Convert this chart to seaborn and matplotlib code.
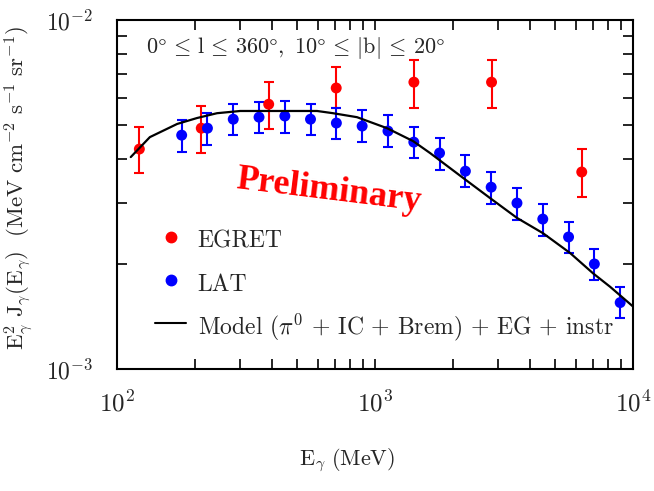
import matplotlib
matplotlib.use("Agg")
import matplotlib.pyplot as plt
from matplotlib.lines import Line2D
from matplotlib.ticker import FixedLocator, FixedFormatter, NullFormatter
import numpy as np
import seaborn as sns

# EGRET points (MeV, MeV cm^-2 s^-1 sr^-1)
egret_e = [122, 212, 387, 707, 1414, 2828, 6325]
egret_v = [4.27e-3, 4.90e-3, 5.74e-3, 6.39e-3, 6.64e-3, 6.64e-3, 3.67e-3]
egret_hi = [4.93e-3, 5.67e-3, 6.64e-3, 7.33e-3, 7.68e-3, 7.68e-3, 4.27e-3]
egret_lo = [3.65e-3, 4.16e-3, 4.87e-3, 5.60e-3, 5.60e-3, 5.60e-3, 3.11e-3]

# LAT points
lat_e = [178, 224, 282, 355, 447, 562, 708, 891, 1122, 1413,
         1778, 2239, 2818, 3548, 4467, 5623, 7079, 8913]
lat_v = [4.68e-3, 4.90e-3, 5.20e-3, 5.27e-3, 5.31e-3, 5.20e-3, 5.07e-3, 4.97e-3, 4.81e-3, 4.47e-3,
         4.16e-3, 3.69e-3, 3.32e-3, 2.99e-3, 2.69e-3, 2.39e-3, 2.00e-3, 1.55e-3]
lat_hi = [5.17e-3, 5.41e-3, 5.74e-3, 5.82e-3, 5.86e-3, 5.74e-3, 5.60e-3, 5.52e-3, 5.34e-3, 4.94e-3,
          4.59e-3, 4.10e-3, 3.67e-3, 3.30e-3, 2.97e-3, 2.64e-3, 2.21e-3, 1.72e-3]
lat_lo = [4.19e-3, 4.38e-3, 4.68e-3, 4.75e-3, 4.75e-3, 4.68e-3, 4.56e-3, 4.47e-3, 4.33e-3, 4.02e-3,
          3.72e-3, 3.32e-3, 2.97e-3, 2.67e-3, 2.40e-3, 2.15e-3, 1.80e-3, 1.40e-3]

# model curve
model_e = [113, 134, 171, 204, 244, 300, 392, 596, 687, 851, 1113,
           1404, 1633, 2193, 2790, 3550, 4477, 5700, 6998, 8150, 10000]
model_v = [4.05e-3, 4.62e-3, 5.04e-3, 5.24e-3, 5.41e-3, 5.49e-3, 5.49e-3, 5.49e-3, 5.41e-3, 5.27e-3, 4.90e-3,
           4.50e-3, 4.16e-3, 3.53e-3, 3.09e-3, 2.71e-3, 2.45e-3, 2.15e-3, 1.88e-3, 1.72e-3, 1.51e-3]

x_ticks = [1e2, 1e3, 1e4]
x_labels = [r'$10^2$', r'$10^3$', r'$10^4$']
x_minor = [200, 300, 400, 500, 600, 700, 800, 900, 2000, 3000, 4000, 5000, 6000, 7000, 8000, 9000]
y_ticks = [1e-3, 1e-2]
y_labels = [r'$10^{-3}$', r'$10^{-2}$']
y_minor = [2e-3, 3e-3, 4e-3, 5e-3, 6e-3, 7e-3, 8e-3, 9e-3]

sns.set_theme(style="ticks")
plt.rcParams['mathtext.fontset'] = 'cm'
plt.rcParams['font.family'] = ['cmr10', 'DejaVu Serif']

fig = plt.figure(figsize=(6.54, 4.91), dpi=100)
ax = fig.add_axes([0.179, 0.2485, 0.789, 0.7105])

ax.errorbar(egret_e, egret_v,
            yerr=[np.array(egret_v) - np.array(egret_lo), np.array(egret_hi) - np.array(egret_v)],
            fmt='none', ecolor='red', elinewidth=1.5, capsize=3.5, capthick=1.5)
ax.errorbar(lat_e, lat_v,
            yerr=[np.array(lat_v) - np.array(lat_lo), np.array(lat_hi) - np.array(lat_v)],
            fmt='none', ecolor='blue', elinewidth=1.5, capsize=3.5, capthick=1.5)
sns.scatterplot(x=egret_e, y=egret_v, color='red', s=62, edgecolor='none', ax=ax, zorder=3)
sns.scatterplot(x=lat_e, y=lat_v, color='blue', s=62, edgecolor='none', ax=ax, zorder=3)
sns.lineplot(x=model_e, y=model_v, color='black', lw=1.6, ax=ax, zorder=4)

ax.set_xscale('log')
ax.set_yscale('log')
ax.set_xlim(1e2, 1e4)
ax.set_ylim(1e-3, 1e-2)

ax.xaxis.set_major_locator(FixedLocator(x_ticks))
ax.xaxis.set_major_formatter(FixedFormatter(x_labels))
ax.yaxis.set_major_locator(FixedLocator(y_ticks))
ax.yaxis.set_major_formatter(FixedFormatter(y_labels))
ax.xaxis.set_minor_locator(FixedLocator(x_minor))
ax.yaxis.set_minor_locator(FixedLocator(y_minor))
ax.xaxis.set_minor_formatter(NullFormatter())
ax.yaxis.set_minor_formatter(NullFormatter())

ax.tick_params(which='both', direction='in', top=True, right=True, length=7, width=1.2, color='black')
ax.tick_params(axis='x', which='major', labelsize=18, pad=16)
ax.tick_params(axis='y', which='major', labelsize=17, pad=17)
for s in ax.spines.values():
    s.set_linewidth(1.5)
    s.set_color('black')

ax.set_xlabel(r'$\mathrm{E}_\gamma\ \mathrm{(MeV)}$', fontsize=16)
ax.xaxis.set_label_coords(0.446, -0.222)
ax.set_ylabel(r'$\mathrm{E}_\gamma^2\ \mathrm{J}_\gamma(\mathrm{E}_\gamma)\ \ (\mathrm{MeV\ cm^{-2}\ s^{-1}\ sr^{-1}})$',
              fontsize=16.5)
ax.yaxis.set_label_coords(-0.158, 0.519)

ax.text(0.345, 0.92,
        r'$0\degree\,\leq\,\mathrm{l}\,\leq\,360\degree,\ 10\degree\,\leq\,|\mathrm{b}|\,\leq\,20\degree$',
        transform=ax.transAxes, ha='center', va='center', fontsize=16)
ax.text(0.411, 0.51, 'Preliminary', transform=ax.transAxes, ha='center', va='center',
        rotation=-7, color='red', fontsize=26, fontweight='bold', family='Liberation Serif')

handles = [
    Line2D([], [], ls='none', marker='o', color='red', markersize=7.5),
    Line2D([], [], ls='none', marker='o', color='blue', markersize=7.5),
    Line2D([], [], color='black', lw=1.5),
]
labels = ['EGRET', 'LAT', r'Model ($\pi^0$ + IC + Brem) + EG + instr']
ax.legend(handles, labels, loc='center left', bbox_to_anchor=(0.074, 0.2435), frameon=False,
          fontsize=17, handlelength=1.3, handleheight=1.5, handletextpad=0.5, labelspacing=0.6,
          borderpad=0, borderaxespad=0)

fig.savefig('out.png', dpi=100)
